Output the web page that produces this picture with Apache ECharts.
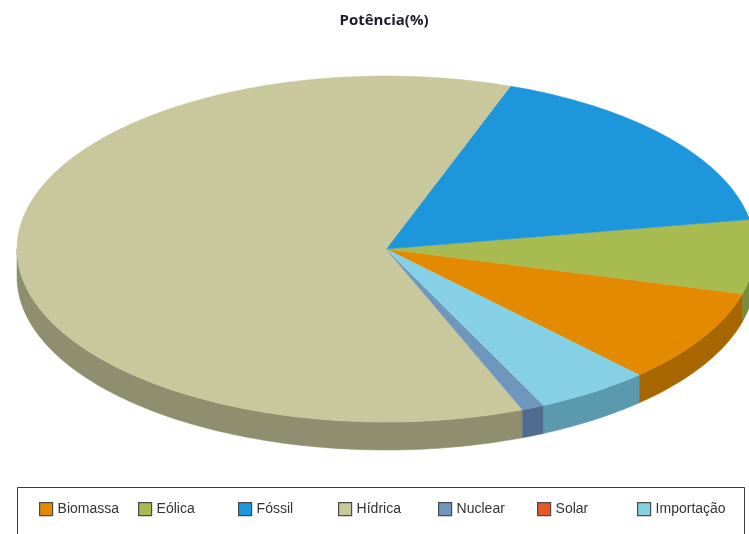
<!DOCTYPE html>
<html>
<head>
<meta charset="utf-8">
<style>html,body{margin:0;padding:0;background:#fff}#c{width:749px;height:534px}</style>
<script src="https://cdn.jsdelivr.net/npm/echarts@6/dist/echarts.min.js"></script>
</head>
<body>
<div id="c"></div>
<script>
var categories = ['Biomassa', 'Eólica', 'Fóssil', 'Hídrica', 'Nuclear', 'Solar', 'Importação'];
var potencia = [8.8, 6.9, 16.8, 61.5, 1.0, 0, 5.0];
var topColors = ['#e48a00', '#a8bb50', '#1e96dc', '#c8c89c', '#6f97bd', '#e4582a', '#85d0e4'];
var wallColors = ['#a86600', '#7c8a3c', '#166fa3', '#8f8f70', '#4f6c8e', '#a8401e', '#5b9aae'];
var legendLefts = [39, 138, 238, 338, 438, 537, 637];

var CX = 386, CY = 249, RX = 369, RY = 173, DEPTH = 28, START = -46.7;
var total = potencia.reduce(function (a, b) { return a + b; }, 0);

function arc(a0, a1, dy) {
  var pts = [], n = Math.max(2, Math.ceil(Math.abs(a1 - a0)));
  for (var i = 0; i <= n; i++) {
    var t = (a0 + (a1 - a0) * i / n) * Math.PI / 180;
    pts.push([CX + RX * Math.cos(t), CY - RY * Math.sin(t) + dy]);
  }
  return pts;
}

var cum = 0;
var series = categories.map(function (name, idx) {
  var a0 = START + cum / total * 360;
  cum += potencia[idx];
  var a1 = START + cum / total * 360;
  return {
    type: 'custom',
    name: name,
    coordinateSystem: 'none',
    silent: true,
    animation: false,
    itemStyle: { color: topColors[idx] },
    data: [[potencia[idx]]],
    renderItem: function () {
      var children = [];
      if (a1 <= a0) return { type: 'group', children: children };
      // the wall is only visible on the lower half of the ellipse
      var ranges = [[a0, a1], [a0 + 360, a1 + 360], [a0 - 360, a1 - 360]];
      ranges.forEach(function (r) {
        var w0 = Math.max(r[0], 180), w1 = Math.min(r[1], 360);
        if (w1 > w0) {
          var top = arc(w0, w1, 0), bot = arc(w1, w0, DEPTH);
          children.push({
            type: 'polygon', z2: 1,
            shape: { points: top.concat(bot) },
            style: { fill: wallColors[idx], stroke: wallColors[idx], lineWidth: 0.5 }
          });
        }
      });
      children.push({
        type: 'polygon', z2: 2,
        shape: { points: [[CX, CY]].concat(arc(a0, a1, 0)) },
        style: { fill: topColors[idx], stroke: topColors[idx], lineWidth: 0.5 }
      });
      return { type: 'group', children: children };
    }
  };
});

var legends = categories.map(function (name, idx) {
  return {
    data: [name],
    left: legendLefts[idx],
    top: 502,
    itemWidth: 13,
    itemHeight: 13,
    itemGap: 0,
    icon: 'rect',
    selectedMode: false,
    padding: 0,
    itemStyle: { borderColor: '#4a4a4a', borderWidth: 1.2 },
    textStyle: { fontFamily: 'Liberation Sans', fontSize: 14, color: '#333', padding: [0, 0, 0, 0] }
  };
});

var chart = echarts.init(document.getElementById('c'), null, { renderer: 'canvas' });
chart.setOption({
  backgroundColor: '#ffffff',
  animation: false,
  title: {
    text: 'Potência(%)',
    left: 384,
    top: 13,
    textAlign: 'center',
    padding: 0,
    textStyle: { fontFamily: 'Open Sans', fontWeight: 'bold', fontSize: 15, color: '#1c1c2a' }
  },
  legend: legends,
  graphic: [{
    type: 'rect',
    z: -1,
    silent: true,
    shape: { x: 17.5, y: 487.5, width: 727, height: 60 },
    style: { fill: '#fff', stroke: '#3c3c3c', lineWidth: 1 }
  }],
  series: series
});
</script>
</body>
</html>
